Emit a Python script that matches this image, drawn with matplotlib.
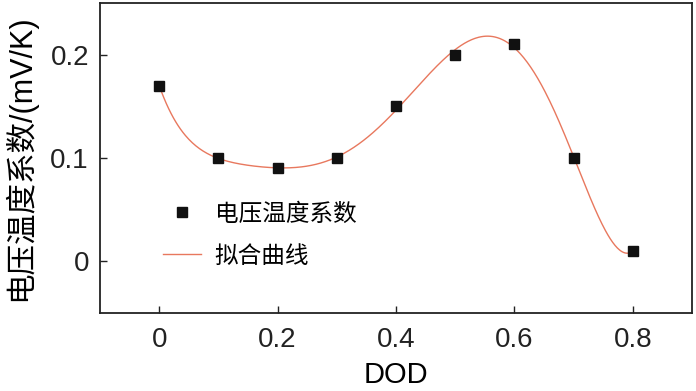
import numpy as np
import matplotlib
matplotlib.use("Agg")
from matplotlib import pyplot as plt

# data
dod = [0, 0.1, 0.2, 0.3, 0.4, 0.5, 0.6, 0.7, 0.8]
coef = [0.17, 0.10, 0.09, 0.10, 0.15, 0.20, 0.21, 0.10, 0.01]
xticks = [0, 0.2, 0.4, 0.6, 0.8]
xtick_labels = ["0", "0.2", "0.4", "0.6", "0.8"]
yticks = [0, 0.1, 0.2]
ytick_labels = ["0", "0.1", "0.2"]
fit_degree = 6

fam = ["Liberation Sans", "Noto Sans CJK SC"]
plt.rcParams["font.family"] = fam

fig = plt.figure(figsize=(6.96, 3.91), dpi=100)
ax = fig.add_axes([0.1437, 0.1995, 0.8506, 0.7928])

# polynomial fit of the measured points
p = np.polyfit(dod, coef, fit_degree)
xs = np.linspace(dod[0], dod[-1], 400)

ax.plot(dod, coef, "s", color="#111111", markersize=6.5, label="电压温度系数", zorder=3)
ax.plot(xs, np.polyval(p, xs), color="#E8785E", lw=1.0, label="拟合曲线")

ax.set_xlim(-0.1, 0.9)
ax.set_ylim(-0.05, 0.25)
ax.set_xticks(xticks)
ax.set_xticklabels(xtick_labels)
ax.set_yticks(yticks)
ax.set_yticklabels(ytick_labels)
ax.tick_params(direction="in", length=5, width=1, labelsize=20, pad=8, colors="#222222")
ax.tick_params(axis="x", pad=10)
for s in ax.spines.values():
    s.set_linewidth(1.3)
    s.set_color("#222222")

ax.set_xlabel("DOD", fontsize=21, labelpad=6)
ax.set_ylabel("电压温度系数/(mV/K)", fontsize=22, labelpad=10)

leg = ax.legend(loc="upper left", bbox_to_anchor=(0.09, 0.385), frameon=False,
                fontsize=17, numpoints=1, handlelength=1.6, handletextpad=0.6,
                labelspacing=0.85, borderaxespad=0)

fig.savefig("out.png", dpi=100)
